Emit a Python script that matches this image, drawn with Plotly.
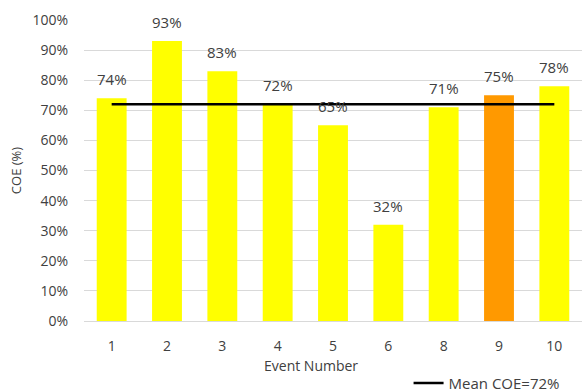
import plotly.graph_objects as go

events = ["1", "2", "3", "4", "5", "6", "8", "9", "10"]
coe = [74, 93, 83, 72, 65, 32, 71, 75, 78]
bar_colors = ["#FFFF00", "#FFFF00", "#FFFF00", "#FFFF00", "#FFFF00", "#FFFF00", "#FFFF00", "#FF9900", "#FFFF00"]
mean_coe = 72
y_ticks = [0, 10, 20, 30, 40, 50, 60, 70, 80, 90, 100]

FONT = "Open Sans"

fig = go.Figure()
fig.add_trace(go.Bar(
    x=events, y=coe,
    marker=dict(color=bar_colors, line=dict(width=0)),
    showlegend=False,
    hoverinfo="skip",
))
fig.add_trace(go.Scatter(
    x=events, y=[mean_coe] * len(events),
    mode="lines",
    line=dict(color="black", width=2.5),
    name=f"Mean COE={mean_coe}%",
    showlegend=True,
))

# category axis: annotations placed by category index
annotations = [
    dict(x=i, y=v, xref="x", yref="y", text=f"{v}%", showarrow=False,
         yanchor="bottom", yshift=7,
         font=dict(family=FONT, size=15, color="#404040"))
    for i, v in enumerate(coe)
]
annotations.append(dict(
    x=0.455, y=-0.148, xref="paper", yref="paper", text="Event Number",
    showarrow=False, xanchor="center", yanchor="middle",
    font=dict(family=FONT, size=14, color="#404040"),
))

fig.update_layout(
    width=582, height=392,
    margin=dict(l=84, r=0, t=20, b=71, autoexpand=False),
    paper_bgcolor="white", plot_bgcolor="white",
    bargap=0.46,
    font=dict(family=FONT, size=13, color="#404040"),
    annotations=annotations,
    legend=dict(
        orientation="h", x=0.965, xanchor="right", y=-0.207, yanchor="middle",
        font=dict(family=FONT, size=15, color="#404040"),
        bgcolor="rgba(0,0,0,0)",
    ),
    xaxis=dict(
        type="category",
        range=[-0.5, len(events) - 0.5],
        tickfont=dict(family=FONT, size=14, color="#404040"),
        ticks="outside", ticklen=12, tickcolor="rgba(0,0,0,0)",
        showline=True, linecolor="#D9D9D9", linewidth=1,
        showgrid=False,
    ),
    yaxis=dict(
        title=dict(text="COE (%)", font=dict(family=FONT, size=13, color="#404040"), standoff=8),
        range=[0, 100],
        tickvals=y_ticks,
        ticktext=[f"{v}%" for v in y_ticks],
        tickfont=dict(family=FONT, size=14, color="#404040"),
        ticks="outside", ticklen=12, tickcolor="rgba(0,0,0,0)",
        showgrid=True, gridcolor="#D9D9D9", gridwidth=1,
        zeroline=False,
    ),
)

fig.write_html("out.html")
